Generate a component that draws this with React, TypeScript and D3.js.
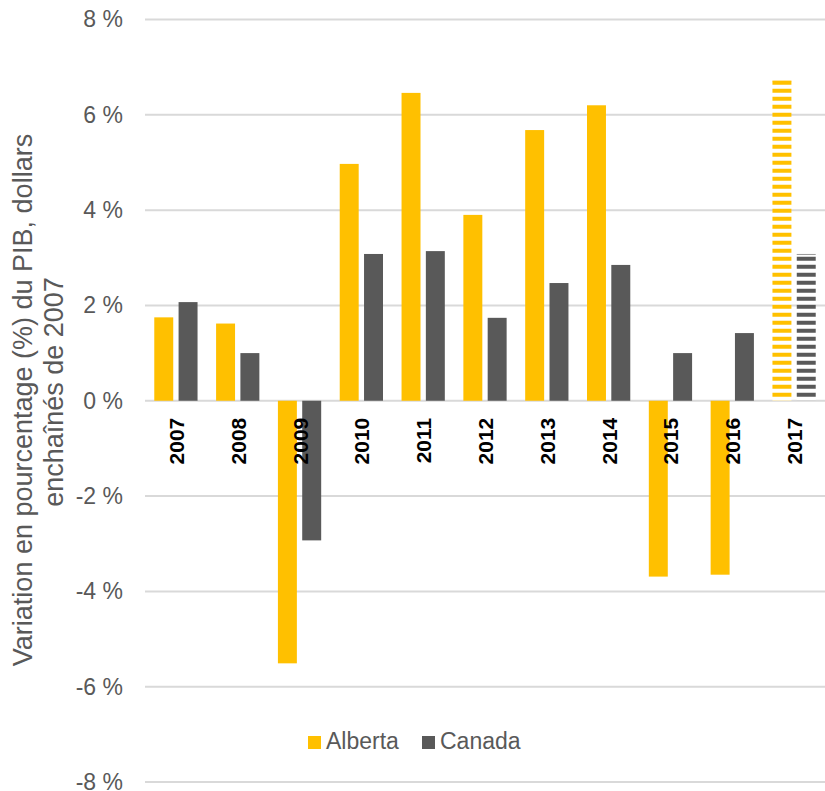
import React from "react";
import * as d3 from "d3";

const years = ["2007", "2008", "2009", "2010", "2011", "2012", "2013", "2014", "2015", "2016", "2017"];
const alberta = [1.75, 1.62, -5.51, 4.97, 6.46, 3.9, 5.68, 6.2, -3.69, -3.65, 6.72];
const canada = [2.07, 1.0, -2.93, 3.08, 3.14, 1.74, 2.47, 2.85, 1.0, 1.42, 3.08];
const series = ["Alberta", "Canada"];
const colors = ["#FFC000", "#595959"];
const yTicks = [-8, -6, -4, -2, 0, 2, 4, 6, 8];
const forecastYears = ["2017"];

const W = 825;
const H = 791;
const FONT = "'Liberation Sans', Arial, sans-serif";

export default function App() {
  const x0 = d3.scaleBand<string>().domain(years).range([145, 825]).paddingInner(0.3).paddingOuter(0.15);
  const x1 = d3.scaleBand<string>().domain(series).range([0, x0.bandwidth()]).paddingInner(0.22);
  const y = d3.scaleLinear().domain([-8, 8]).range([782, 19.5]);
  const values = [alberta, canada];

  return (
    <svg width={W} height={H} style={{ position: "absolute", left: 0, top: 0, display: "block", background: "#fff" }}>
      <defs>
        {series.map((s, i) => (
          <pattern key={s} id={`stripe-${i}`} patternUnits="userSpaceOnUse" width={8} height={8} x={0} y={y(0)}>
            <rect x={0} y={0} width={8} height={8} fill="#fff" />
            <rect x={0} y={0} width={8} height={4} fill={colors[i]} />
          </pattern>
        ))}
      </defs>
      {yTicks.map((t) => (
        <g key={t}>
          <line x1={145} x2={825} y1={y(t)} y2={y(t)} stroke="#D9D9D9" strokeWidth={2} />
          <text x={123} y={y(t)} dy="0.34em" textAnchor="end" fontFamily={FONT} fontSize={23} fill="#595959">
            {`${t} %`}
          </text>
        </g>
      ))}
      {years.map((yr, j) => (
        <g key={yr} transform={`translate(${x0(yr)},0)`}>
          {series.map((s, i) => {
            const v = values[i][j];
            const forecast = forecastYears.includes(yr);
            const top = y(Math.max(0, v));
            const h = Math.abs(y(v) - y(0));
            return (
              <g key={s}>
                <rect
                  x={x1(s)}
                  y={top}
                  width={x1.bandwidth()}
                  height={h}
                  fill={forecast ? `url(#stripe-${i})` : colors[i]}
                />
                {forecast && (
                  <line x1={x1(s)} x2={(x1(s) as number) + x1.bandwidth()} y1={top + 0.5} y2={top + 0.5} stroke={colors[i]} strokeWidth={1} opacity={0.6} />
                )}
              </g>
            );
          })}
        </g>
      ))}
      {years.map((yr) => {
        const cx = (x0(yr) as number) + x0.bandwidth() / 2;
        return (
          <text
            key={yr}
            transform={`translate(${cx + 8},${y(0) + 17}) rotate(-90)`}
            textAnchor="end"
            fontFamily={FONT}
            fontSize={21}
            fontWeight="bold"
            fill="#000"
          >
            {yr}
          </text>
        );
      })}
      <text transform={`translate(32,400) rotate(-90)`} textAnchor="middle" fontFamily={FONT} fontSize={27} fill="#595959">
        Variation en pourcentage (%) du PIB, dollars
      </text>
      <text transform={`translate(63,392) rotate(-90)`} textAnchor="middle" fontFamily={FONT} fontSize={27} fill="#595959">
        enchaînés de 2007
      </text>
      <g>
        <rect x={308} y={736} width={13} height={13} fill={colors[0]} />
        <text x={326} y={749} fontFamily={FONT} fontSize={23} fill="#595959">{series[0]}</text>
        <rect x={422} y={736} width={13} height={13} fill={colors[1]} />
        <text x={440} y={749} fontFamily={FONT} fontSize={23} fill="#595959">{series[1]}</text>
      </g>
    </svg>
  );
}
